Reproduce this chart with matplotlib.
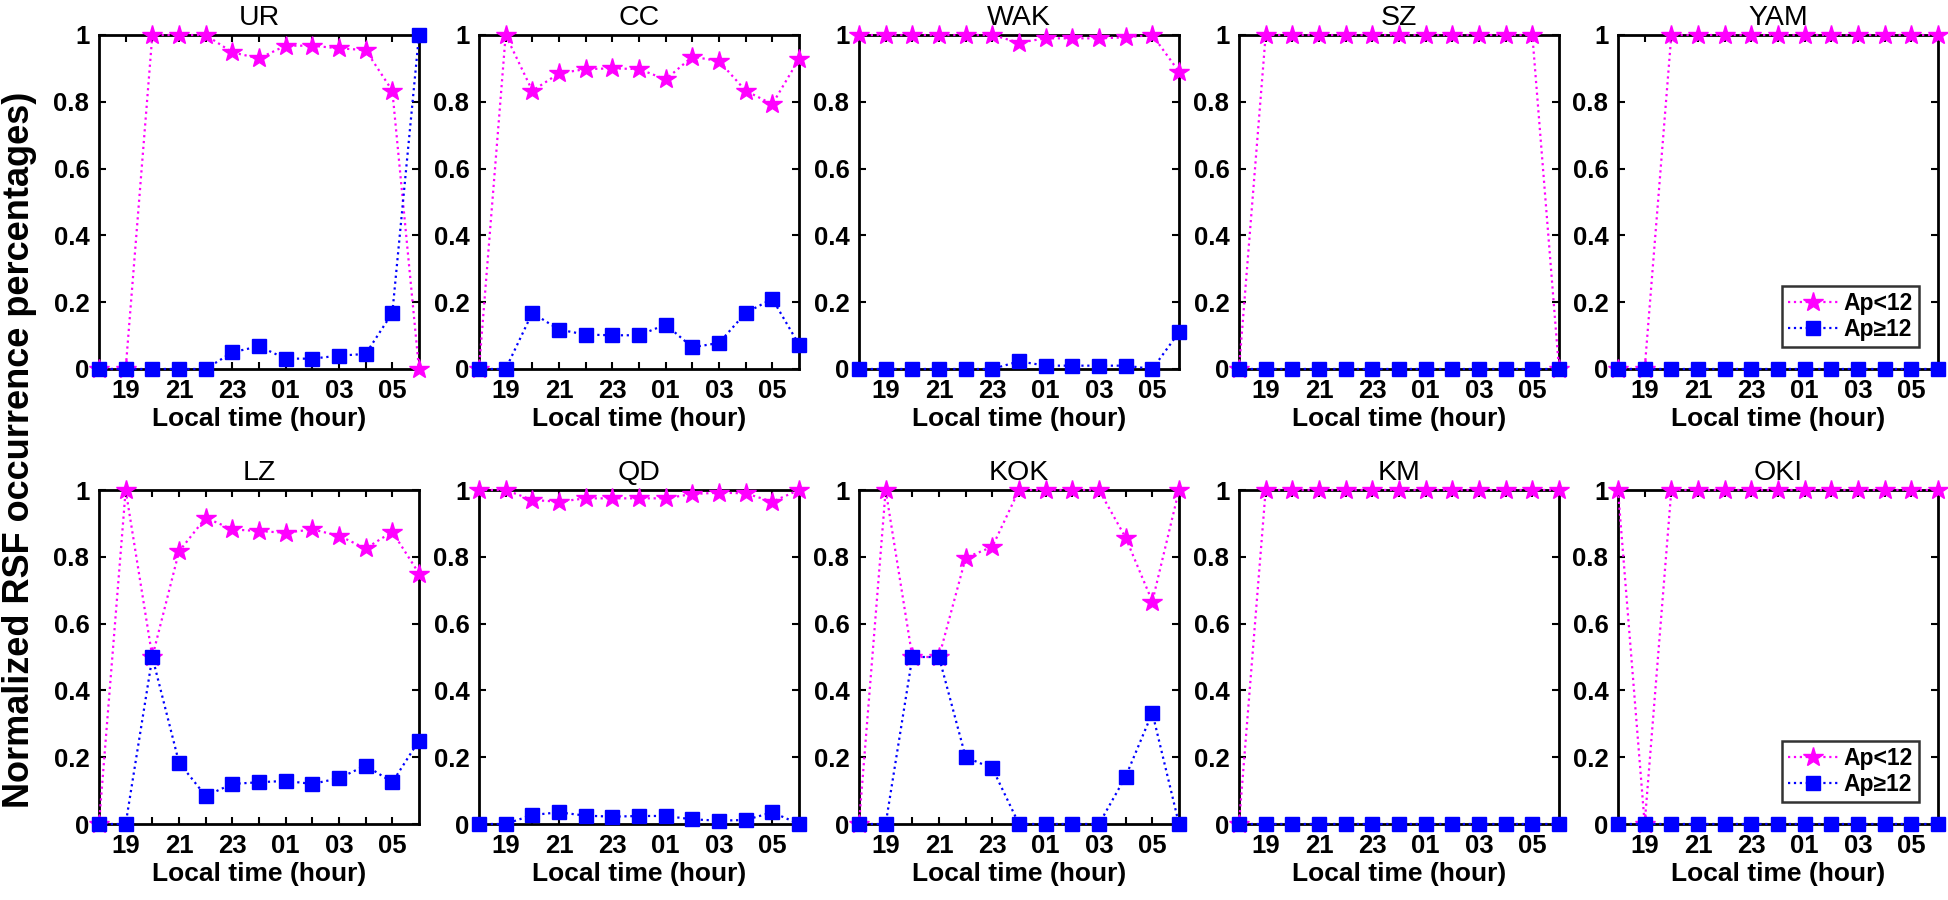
import matplotlib
matplotlib.use('Agg')
import matplotlib.pyplot as plt
import numpy as np

plt.rcParams['font.family'] = ['Liberation Sans', 'DejaVu Sans']

# local time 18:00 -> 06:00 (next day), hourly
hours = np.arange(18, 31)

stations = ['UR', 'CC', 'WAK', 'SZ', 'YAM', 'LZ', 'QD', 'KOK', 'KM', 'OKI']

quiet = {  # Ap<12
    'UR':  [0, 0, 1, 1, 1, 0.948, 0.93, 0.968, 0.968, 0.96, 0.955, 0.833, 0],
    'CC':  [0, 1, 0.833, 0.885, 0.898, 0.9, 0.898, 0.867, 0.935, 0.922, 0.833, 0.793, 0.928],
    'WAK': [1, 1, 1, 1, 1, 1, 0.977, 0.99, 0.99, 0.99, 0.993, 1, 0.89],
    'SZ':  [0, 1, 1, 1, 1, 1, 1, 1, 1, 1, 1, 1, 0],
    'YAM': [0, 0, 1, 1, 1, 1, 1, 1, 1, 1, 1, 1, 1],
    'LZ':  [0, 1, 0.5, 0.816, 0.917, 0.882, 0.877, 0.872, 0.882, 0.863, 0.825, 0.875, 0.75],
    'QD':  [1, 1, 0.97, 0.965, 0.975, 0.975, 0.975, 0.975, 0.988, 0.992, 0.99, 0.965, 1],
    'KOK': [0, 1, 0.5, 0.5, 0.797, 0.83, 1, 1, 1, 1, 0.857, 0.666, 1],
    'KM':  [0, 1, 1, 1, 1, 1, 1, 1, 1, 1, 1, 1, 1],
    'OKI': [1, 0, 1, 1, 1, 1, 1, 1, 1, 1, 1, 1, 1],
}

active = {  # Ap>=12
    'UR':  [0, 0, 0, 0, 0, 0.05, 0.068, 0.031, 0.031, 0.04, 0.045, 0.168, 1],
    'CC':  [0, 0, 0.168, 0.118, 0.103, 0.101, 0.101, 0.133, 0.065, 0.078, 0.168, 0.21, 0.073],
    'WAK': [0, 0, 0, 0, 0, 0, 0.023, 0.01, 0.01, 0.01, 0.01, 0, 0.11],
    'SZ':  [0] * 13,
    'YAM': [0] * 13,
    'LZ':  [0, 0, 0.5, 0.184, 0.084, 0.12, 0.125, 0.129, 0.12, 0.137, 0.175, 0.125, 0.25],
    'QD':  [0, 0, 0.027, 0.035, 0.025, 0.022, 0.024, 0.024, 0.014, 0.01, 0.012, 0.035, 0],
    'KOK': [0, 0, 0.5, 0.5, 0.2, 0.167, 0, 0, 0, 0, 0.142, 0.333, 0],
    'KM':  [0] * 13,
    'OKI': [0] * 13,
}

xticks = np.arange(19, 30)
xticklabels = ['%02d' % (h % 24) if h % 2 == 1 else '' for h in xticks]
yticks = [0, 0.2, 0.4, 0.6, 0.8, 1]
yticklabels = ['0', '0.2', '0.4', '0.6', '0.8', '1']

fig = plt.figure(figsize=(19.49, 9), dpi=100)

W, H = 1949.0, 900.0
lefts = [99, 479, 859, 1239, 1618]
tops = [35, 490]
aw, ah = 320, 334

for i, st in enumerate(stations):
    r, c = divmod(i, 5)
    ax = fig.add_axes([lefts[c] / W, 1 - (tops[r] + ah) / H, aw / W, ah / H])
    ax.plot(hours, quiet[st], ':', color='#ff00ff', marker='*', markersize=15,
            lw=1.6, clip_on=False, zorder=3, label='Ap<12')
    ax.plot(hours, active[st], ':', color='#0000ff', marker='s', markersize=9.5,
            lw=1.6, clip_on=False, zorder=4, label='Ap≥12')
    ax.set_xlim(18, 30)
    ax.set_ylim(0, 1)
    ax.set_xticks(xticks)
    ax.set_xticklabels(xticklabels)
    ax.set_yticks(yticks)
    ax.set_yticklabels(yticklabels)
    ax.tick_params(direction='in', length=5, width=1.5, top=True, right=True,
                   labelsize=18.5, pad=7)
    for lab in ax.get_xticklabels() + ax.get_yticklabels():
        lab.set_fontweight('bold')
    for sp in ax.spines.values():
        sp.set_linewidth(2)
    ax.set_title(st, fontsize=20.5, pad=7)
    ax.set_xlabel('Local time (hour)', fontsize=19, fontweight='bold', labelpad=3)
    if c == 4:
        leg = ax.legend(loc='lower right', bbox_to_anchor=(0.94, 0.066),
                        prop={'weight': 'bold', 'size': 16.5}, frameon=True,
                        fancybox=False, edgecolor='black', handlelength=2.2,
                        borderpad=0.25, labelspacing=0.15, handletextpad=0.25,
                        borderaxespad=0)
        leg.get_frame().set_linewidth(1.8)

fig.text(20 / W, 0.5, 'Normalized RSF occurrence percentages)', rotation=90,
         ha='center', va='center', fontsize=26, fontweight='bold')

plt.savefig('out.png', dpi=100)
